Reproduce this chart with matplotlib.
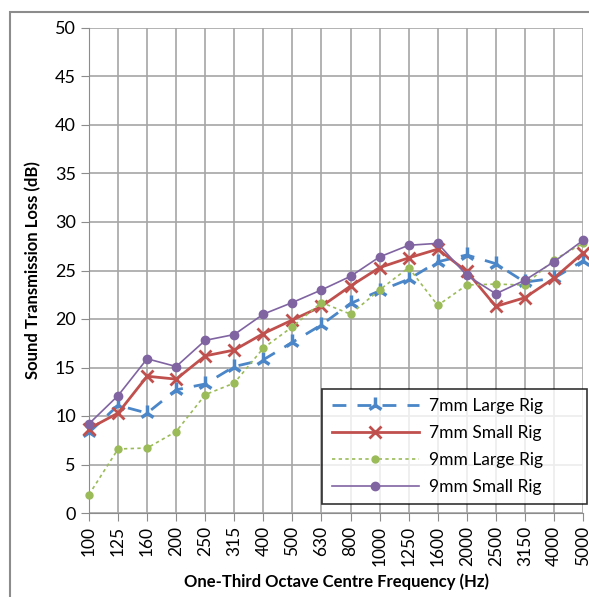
import matplotlib.pyplot as plt
from matplotlib.patches import Rectangle

# one-third octave centre frequencies (category labels)
freqs = ['100', '125', '160', '200', '250', '315', '400', '500', '630', '800',
         '1000', '1250', '1600', '2000', '2500', '3150', '4000', '5000']

# sound transmission loss (dB)
large_7mm = [8.3, 11.1, 10.3, 12.7, 13.3, 15.1, 15.8, 17.6, 19.4, 21.6,
             22.9, 24.1, 25.9, 26.6, 25.7, 23.8, 24.2, 26.0]
small_7mm = [8.7, 10.3, 14.1, 13.8, 16.2, 16.8, 18.5, 19.9, 21.3, 23.4,
             25.3, 26.3, 27.2, 24.9, 21.3, 22.2, 24.2, 26.8]
large_9mm = [1.9, 6.6, 6.7, 8.4, 12.2, 13.4, 17.0, 19.2, 21.7, 20.5,
             23.0, 25.3, 21.4, 23.5, 23.6, 23.5, 26.1, 27.8]
small_9mm = [9.2, 12.1, 15.9, 15.1, 17.8, 18.4, 20.5, 21.7, 23.0, 24.4,
             26.4, 27.6, 27.8, 24.5, 22.6, 24.0, 25.9, 28.1]

plt.rcParams['font.family'] = ['Lato', 'DejaVu Sans']

fig = plt.figure(figsize=(5.89, 5.97), dpi=100)
ax = fig.add_axes([89 / 589, 1 - 513 / 597, (583 - 89) / 589, (513 - 28) / 597])

# outer chart border
fig.patches.append(Rectangle((10 / 589, -0.05), 1.0, 1 - 12 / 597 + 0.05,
                             transform=fig.transFigure, fill=False,
                             edgecolor='#8c8c8c', linewidth=1.5))

x = list(range(len(freqs)))
ax.plot(x, large_7mm, color='#4a86c8', linestyle=(0, (5, 4)), linewidth=2,
        marker='2', markersize=11, markeredgewidth=2.5, label='7mm Large Rig',
        clip_on=False, zorder=3)
ax.plot(x, small_7mm, color='#c0504d', linewidth=2, marker='x',
        markersize=8, markeredgewidth=2, label='7mm Small Rig', clip_on=False, zorder=3)
ax.plot(x, large_9mm, color='#9bbb59', linestyle=(0, (2, 2)), linewidth=1.2,
        marker='o', markersize=5, label='9mm Large Rig', clip_on=False, zorder=3)
ax.plot(x, small_9mm, color='#8064a2', linewidth=1.2, marker='o',
        markersize=6, label='9mm Small Rig', clip_on=False, zorder=3)

ax.set_xlim(0, len(freqs) - 1)
ax.set_ylim(0, 50)
ax.set_yticks(range(0, 51, 5))
ax.set_xticks(x)
ax.set_xticklabels(freqs, rotation=90, fontsize=12.5)
ax.tick_params(axis='y', labelsize=13, length=6, color='#8c8c8c')
ax.tick_params(axis='x', length=6, color='#8c8c8c')
ax.grid(True, color='#a6a6a6', linewidth=1.2)
ax.set_axisbelow(True)
for side in ['top', 'right']:
    ax.spines[side].set_visible(False)
for side in ['left', 'bottom']:
    ax.spines[side].set_color('#8c8c8c')

ax.set_xlabel('One-Third Octave Centre Frequency (Hz)', fontsize=12,
              fontweight='bold', labelpad=5)
ax.set_ylabel('Sound Transmission Loss (dB)', fontsize=12, fontweight='bold',
              labelpad=10)

leg = ax.legend(loc='upper left', bbox_to_anchor=(0.472, 0.021, 0.536, 0.235),
                mode='expand', fontsize=12.5, frameon=True, fancybox=False,
                borderpad=0.55, labelspacing=0.62, handlelength=5.0,
                handletextpad=0.6, borderaxespad=0)
leg.get_frame().set_edgecolor('black')
leg.get_frame().set_linewidth(1.2)

fig.savefig('out.png', dpi=100)
